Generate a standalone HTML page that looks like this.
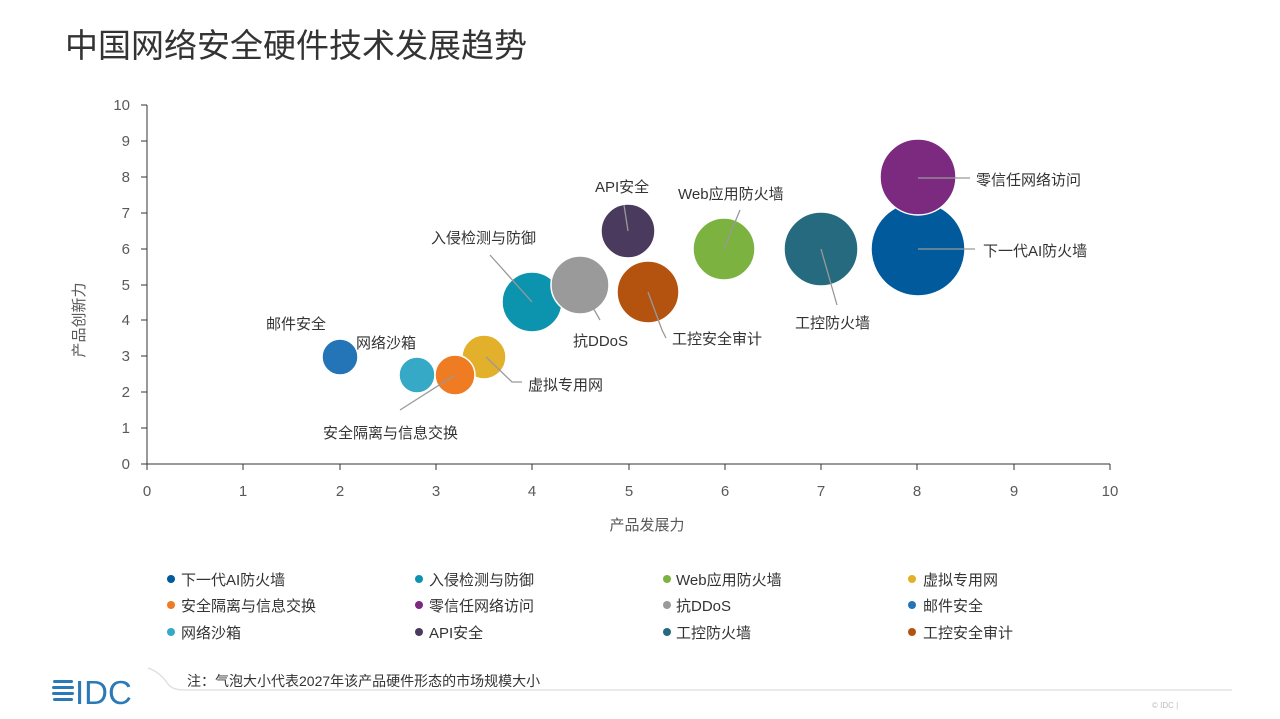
<!DOCTYPE html>
<html><head><meta charset="utf-8"><style>
body{margin:0;background:#fff}
svg{display:block;font-family:"Liberation Sans","Noto Sans CJK SC",sans-serif}
</style></head><body>
<svg width="1280" height="719" viewBox="0 0 1280 719">
<text x="65" y="57" font-size="33" fill="#333">中国网络安全硬件技术发展趋势</text>
<g stroke="#333" stroke-width="1">
<line x1="147" y1="105" x2="147" y2="464"/>
<line x1="147" y1="464" x2="1110" y2="464"/>
</g>
<g stroke="#333" stroke-width="1">
<line x1="141" y1="464" x2="147" y2="464"/><line x1="141" y1="428" x2="147" y2="428"/><line x1="141" y1="392" x2="147" y2="392"/><line x1="141" y1="356" x2="147" y2="356"/><line x1="141" y1="320" x2="147" y2="320"/><line x1="141" y1="285" x2="147" y2="285"/><line x1="141" y1="249" x2="147" y2="249"/><line x1="141" y1="213" x2="147" y2="213"/><line x1="141" y1="177" x2="147" y2="177"/><line x1="141" y1="141" x2="147" y2="141"/><line x1="141" y1="105" x2="147" y2="105"/>
<line x1="147" y1="464" x2="147" y2="470"/><line x1="243" y1="464" x2="243" y2="470"/><line x1="340" y1="464" x2="340" y2="470"/><line x1="436" y1="464" x2="436" y2="470"/><line x1="532" y1="464" x2="532" y2="470"/><line x1="629" y1="464" x2="629" y2="470"/><line x1="725" y1="464" x2="725" y2="470"/><line x1="821" y1="464" x2="821" y2="470"/><line x1="917" y1="464" x2="917" y2="470"/><line x1="1014" y1="464" x2="1014" y2="470"/><line x1="1110" y1="464" x2="1110" y2="470"/>
</g>
<g font-size="15" fill="#595959" text-anchor="end">
<text x="130" y="469">0</text><text x="130" y="433">1</text><text x="130" y="397">2</text><text x="130" y="361">3</text><text x="130" y="325">4</text><text x="130" y="290">5</text><text x="130" y="254">6</text><text x="130" y="218">7</text><text x="130" y="182">8</text><text x="130" y="146">9</text><text x="130" y="110">10</text>
</g>
<g font-size="15" fill="#595959" text-anchor="middle">
<text x="147" y="496">0</text><text x="243" y="496">1</text><text x="340" y="496">2</text><text x="436" y="496">3</text><text x="532" y="496">4</text><text x="629" y="496">5</text><text x="725" y="496">6</text><text x="821" y="496">7</text><text x="917" y="496">8</text><text x="1014" y="496">9</text><text x="1110" y="496">10</text>
<text x="647" y="530">产品发展力</text>
<text transform="translate(84,320) rotate(-90)">产品创新力</text>
</g>
<g stroke="#fff" stroke-width="1.5">
<circle cx="918" cy="249" r="47" fill="#005a9c"/>
<circle cx="918" cy="177" r="38" fill="#7b2a7f"/>
<circle cx="821" cy="249" r="37" fill="#256a7e"/>
<circle cx="724" cy="249" r="31" fill="#7bb240"/>
<circle cx="628" cy="231" r="27" fill="#4a3a5e"/>
<circle cx="532" cy="302" r="30" fill="#0c93ae"/>
<circle cx="580" cy="285" r="29" fill="#9a9a9a"/>
<circle cx="648" cy="292" r="31" fill="#b4530f"/>
<circle cx="484" cy="357" r="22" fill="#e3b02c"/>
<circle cx="417" cy="375" r="18" fill="#35a9c6"/>
<circle cx="455" cy="375" r="20" fill="#ef7b22"/>
<circle cx="340" cy="357" r="18" fill="#2474b8"/>
</g>
<g stroke="#999" stroke-width="1.3" fill="none">
<line x1="918" y1="178" x2="970" y2="178"/>
<line x1="918" y1="249" x2="975" y2="249"/>
<line x1="821" y1="249" x2="837" y2="305"/>
<line x1="724" y1="249" x2="740" y2="210"/>
<line x1="628" y1="231" x2="624" y2="205"/>
<line x1="532" y1="302" x2="490" y2="255"/>
<line x1="580" y1="285" x2="600" y2="320"/>
<polyline points="648,292 662,330 666,338"/>
<polyline points="486,357 512,382 522,382"/>
<line x1="455" y1="375" x2="400" y2="410"/>
</g>
<g font-size="15" fill="#333">
<text x="976" y="185">零信任网络访问</text>
<text x="983" y="256">下一代AI防火墙</text>
<text x="795" y="328">工控防火墙</text>
<text x="678" y="199">Web应用防火墙</text>
<text x="595" y="192">API安全</text>
<text x="431" y="243">入侵检测与防御</text>
<text x="573" y="346">抗DDoS</text>
<text x="672" y="344">工控安全审计</text>
<text x="528" y="390">虚拟专用网</text>
<text x="323" y="438">安全隔离与信息交换</text>
<text x="266" y="329">邮件安全</text>
<text x="356" y="348">网络沙箱</text>
</g>
<g font-size="15" fill="#333">
<circle cx="171" cy="579" r="4" fill="#005a9c"/><text x="181" y="585">下一代AI防火墙</text>
<circle cx="419" cy="579" r="4" fill="#0c93ae"/><text x="429" y="585">入侵检测与防御</text>
<circle cx="667" cy="579" r="4" fill="#7bb240"/><text x="676" y="585">Web应用防火墙</text>
<circle cx="912" cy="579" r="4" fill="#e3b02c"/><text x="923" y="585">虚拟专用网</text>
<circle cx="171" cy="605" r="4" fill="#ef7b22"/><text x="181" y="611">安全隔离与信息交换</text>
<circle cx="419" cy="605" r="4" fill="#7b2a7f"/><text x="429" y="611">零信任网络访问</text>
<circle cx="667" cy="605" r="4" fill="#9a9a9a"/><text x="676" y="611">抗DDoS</text>
<circle cx="912" cy="605" r="4" fill="#2474b8"/><text x="923" y="611">邮件安全</text>
<circle cx="171" cy="632" r="4" fill="#35a9c6"/><text x="181" y="638">网络沙箱</text>
<circle cx="419" cy="632" r="4" fill="#4a3a5e"/><text x="429" y="638">API安全</text>
<circle cx="667" cy="632" r="4" fill="#256a7e"/><text x="676" y="638">工控防火墙</text>
<circle cx="912" cy="632" r="4" fill="#b4530f"/><text x="923" y="638">工控安全审计</text>
</g>
<path d="M148,668 Q160,672 168,684 Q172,690 185,690 L1232,690" stroke="#ddd" stroke-width="1.2" fill="none"/>
<text x="187" y="686" font-size="14" fill="#333">注：气泡大小代表2027年该产品硬件形态的市场规模大小</text>
<g fill="#2a7ab8">
<rect x="53" y="680" width="20" height="3" rx="1.5"/>
<rect x="52" y="686" width="22" height="3" rx="1.5"/>
<rect x="52" y="692" width="22" height="3" rx="1.5"/>
<rect x="53" y="698" width="20" height="3" rx="1.5"/>
</g>
<text x="75" y="704" font-size="33" fill="#2a7ab8" font-family="Liberation Sans,sans-serif">IDC</text>
<text x="1152" y="708" font-size="8" fill="#bbb">© IDC |</text>
</svg>
</body></html>
